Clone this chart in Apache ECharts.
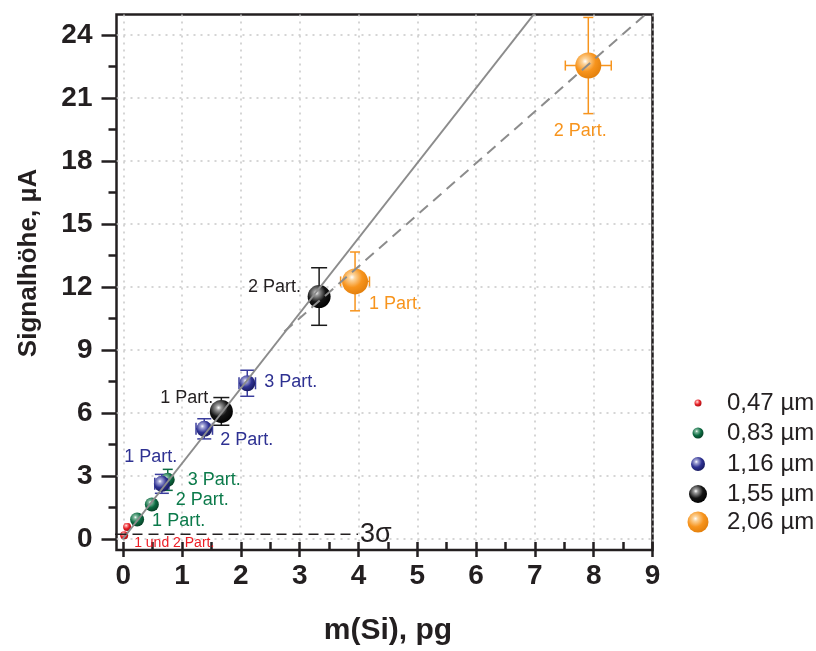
<!DOCTYPE html>
<html>
<head>
<meta charset="utf-8">
<script src="https://cdn.jsdelivr.net/npm/echarts@6/dist/echarts.min.js"></script>
<style>
  html, body { margin: 0; padding: 0; background: #ffffff; }
  #chart { width: 816px; height: 651px; }
</style>
</head>
<body>
<div id="chart"></div>
<script>
// ---- data -------------------------------------------------------------
const sizeNames = ['0,47 µm', '0,83 µm', '1,16 µm', '1,55 µm', '2,06 µm'];

// 0,47 µm particles
const mass047 = [0.03, 0.08];
const signal047 = [0.2, 0.6];
const massErr047 = [0.02, 0.02];
const signalErr047 = [0.12, 0.12];
const tags047 = ['1 und 2 Part.', ''];

// 0,83 µm particles
const mass083 = [0.25, 0.50, 0.77];
const signal083 = [0.95, 1.67, 2.84];
const massErr083 = [0.03, 0.04, 0.06];
const signalErr083 = [0.15, 0.2, 0.5];
const tags083 = ['1 Part.', '2 Part.', '3 Part.'];

// 1,16 µm particles
const mass116 = [0.67, 1.39, 2.12];
const signal116 = [2.65, 5.27, 7.44];
const massErr116 = [0.12, 0.14, 0.14];
const signalErr116 = [0.45, 0.48, 0.62];
const tags116 = ['1 Part.', '2 Part.', '3 Part.'];

// 1,55 µm particles
const mass155 = [1.68, 3.34];
const signal155 = [6.10, 11.57];
const massErr155 = [0.13, 0.15];
const signalErr155 = [0.66, 1.37];
const tags155 = ['1 Part.', '2 Part.'];

// 2,06 µm particles
const mass206 = [3.95, 7.91];
const signal206 = [12.29, 22.57];
const massErr206 = [0.245, 0.39];
const signalErr206 = [1.4, 2.29];
const tags206 = ['1 Part.', '2 Part.'];

// calibration lines
const fitAllX = [0, 7.0];
const fitAllY = [0, 25.06];
const fitLargeX = [2.75, 9.0];
const fitLargeY = [9.9, 25.3];
const sigmaX = [-0.1, 4.0];
const sigmaY = [0.25, 0.25];
const sigmaStubX = [-0.4, -0.1];

// axis ticks
const xTickMin = 0, xTickMax = 9, xTickStep = 1;
const yTickMin = 0, yTickMax = 24, yTickStep = 3;

// ---- styling ------------------------------------------------------------
const FONT = '"Liberation Sans", Arial, Helvetica, sans-serif';
const INK = '#231f20';

const groups = [
  { mass: mass047, signal: signal047, mErr: massErr047, sErr: signalErr047, tags: tags047,
    base: '#e41f26', light: '#ff9c9c', dark: '#a50d12', text: '#ed1c24', bar: '#e41f26',
    size: 8, legendSize: 7, capV: 6, capH: 6, fontSize: 14,
    place: [[10, 8, 'left'], null] },
  { mass: mass083, signal: signal083, mErr: massErr083, sErr: signalErr083, tags: tags083,
    base: '#0c6b42', light: '#7fb89c', dark: '#063a22', text: '#0b7a4a', bar: '#0c6b42',
    size: 14, legendSize: 11, capV: 10, capH: 8, fontSize: 18,
    place: [[15, 1, 'left'], [24, -4, 'left'], [20, 0, 'left']] },
  { mass: mass116, signal: signal116, mErr: massErr116, sErr: signalErr116, tags: tags116,
    base: '#2e3192', light: '#a6a8d8', dark: '#161859', text: '#2e3192', bar: '#3a3d9c',
    size: 16, legendSize: 14, capV: 14, capH: 12, fontSize: 18,
    place: [[-11, -27, 'center'], [16, 11, 'left'], [17, -1, 'left']] },
  { mass: mass155, signal: signal155, mErr: massErr155, sErr: signalErr155, tags: tags155,
    base: '#141414', light: '#9a9a9a', dark: '#000000', text: INK, bar: '#1a1a1a',
    size: 23, legendSize: 18, capV: 16, capH: 10, fontSize: 18,
    place: [[-8, -13, 'right'], [-18, -9, 'right']] },
  { mass: mass206, signal: signal206, mErr: massErr206, sErr: signalErr206, tags: tags206,
    base: '#f7941d', light: '#fcd39a', dark: '#e07d0a', text: '#f7941d', bar: '#f7941d',
    size: 26, legendSize: 21, capV: 10, capH: 10, fontSize: 18,
    place: [[14, 23, 'left'], [-8, 66, 'center']] }
];

function sphere(g) {
  return new echarts.graphic.RadialGradient(0.38, 0.34, 0.72, [
    { offset: 0, color: '#ffffff' },
    { offset: 0.16, color: g.light },
    { offset: 0.55, color: g.base },
    { offset: 1, color: g.dark }
  ]);
}

// ---- series -------------------------------------------------------------
const series = [];

groups.forEach((g, gi) => {
  // error bars
  series.push({
    type: 'custom',
    name: 'err ' + sizeNames[gi],
    xAxisIndex: 0, yAxisIndex: 0,
    z: 3,
    silent: true,
    encode: { x: 0, y: 1 },
    data: g.mass.map((m, i) => [m, g.signal[i], g.mErr[i], g.sErr[i]]),
    renderItem: function (params, api) {
      const x = api.value(0), y = api.value(1), ex = api.value(2), ey = api.value(3);
      const top = api.coord([x, y + ey]);
      const bot = api.coord([x, y - ey]);
      const lft = api.coord([x - ex, y]);
      const rgt = api.coord([x + ex, y]);
      const st = { stroke: g.bar, lineWidth: 1.5, fill: null };
      const hv = g.capV / 2, hh = g.capH / 2;
      return {
        type: 'group',
        children: [
          { type: 'line', shape: { x1: top[0], y1: top[1], x2: bot[0], y2: bot[1] }, style: st },
          { type: 'line', shape: { x1: top[0] - hv, y1: top[1], x2: top[0] + hv, y2: top[1] }, style: st },
          { type: 'line', shape: { x1: bot[0] - hv, y1: bot[1], x2: bot[0] + hv, y2: bot[1] }, style: st },
          { type: 'line', shape: { x1: lft[0], y1: lft[1], x2: rgt[0], y2: rgt[1] }, style: st },
          { type: 'line', shape: { x1: lft[0], y1: lft[1] - hh, x2: lft[0], y2: lft[1] + hh }, style: st },
          { type: 'line', shape: { x1: rgt[0], y1: rgt[1] - hh, x2: rgt[0], y2: rgt[1] + hh }, style: st }
        ]
      };
    }
  });

  // markers with particle-count tags
  series.push({
    type: 'scatter',
    name: sizeNames[gi],
    xAxisIndex: 0, yAxisIndex: 0,
    z: 4,
    symbol: 'circle',
    symbolSize: g.size,
    itemStyle: { color: sphere(g), opacity: 1 },
    data: g.mass.map((m, i) => {
      const p = g.place[i];
      const item = { value: [m, g.signal[i]] };
      if (p && g.tags[i]) {
        item.label = {
          show: true,
          formatter: g.tags[i],
          position: 'inside',
          align: p[2],
          verticalAlign: 'middle',
          offset: [p[0], p[1]],
          color: g.text,
          fontSize: g.fontSize,
          fontFamily: FONT
        };
      }
      return item;
    }),
    emphasis: { disabled: true }
  });
});

// calibration lines (drawn above the markers)
series.push({
  type: 'line', name: 'fit all', xAxisIndex: 0, yAxisIndex: 0, z: 6,
  symbol: 'none', silent: true,
  lineStyle: { color: '#8c8c8c', width: 2 },
  data: fitAllX.map((x, i) => [x, fitAllY[i]])
});
series.push({
  type: 'line', name: 'fit large', xAxisIndex: 0, yAxisIndex: 0, z: 6,
  symbol: 'none', silent: true,
  lineStyle: { color: '#8c8c8c', width: 2, type: [11, 7] },
  data: fitLargeX.map((x, i) => [x, fitLargeY[i]])
});
series.push({
  type: 'line', name: 'sigma', xAxisIndex: 0, yAxisIndex: 0, z: 6,
  symbol: 'none', silent: true,
  lineStyle: { color: INK, width: 1.5, type: [10, 6] },
  data: sigmaX.map((x, i) => [x, sigmaY[i]]),
  endLabel: { show: true, formatter: '3σ', color: INK, fontSize: 27, fontFamily: FONT, distance: 2 }
});
series.push({
  type: 'line', name: 'sigma stub', xAxisIndex: 0, yAxisIndex: 0, z: 6,
  symbol: 'none', silent: true, clip: false,
  lineStyle: { color: INK, width: 1.5 },
  data: sigmaStubX.map((x, i) => [x, sigmaY[i]])
});

// ---- layout -------------------------------------------------------------
const frame = { left: 116.5, right: 163.5, top: 14.5, bottom: 101 };
const splitStyle = { show: true, lineStyle: { color: '#c8c8c8', width: 1.5, type: [2, 5] } };
const tickStyle = { lineStyle: { color: INK, width: 2.5 } };

// one legend block per particle size, icons centred on one column, text on another
const legendRows = [403, 433, 464, 494, 522];
const legendIconX = 698, legendTextX = 727;
const legends = sizeNames.map((name, i) => {
  const h = groups[i].legendSize;
  return {
    data: [name],
    left: legendIconX - h / 2,
    top: legendRows[i] - Math.max(h, 24) / 2,
    padding: 0,
    itemWidth: h,
    itemHeight: h,
    icon: 'circle',
    selectedMode: false,
    textStyle: {
      fontSize: 24, color: INK, fontFamily: FONT,
      padding: [0, 0, 0, legendTextX - (legendIconX + h / 2 + 5)]
    }
  };
});

const option = {
  backgroundColor: '#ffffff',
  animation: false,
  legend: legends,
  grid: [
    // data area with frame
    Object.assign({ show: true, borderColor: INK, borderWidth: 2.5, backgroundColor: 'transparent' }, frame),
    // x tick area
    { left: 123.3, right: frame.right, top: frame.top, bottom: frame.bottom },
    // y tick area
    { left: frame.left, right: frame.right, top: 35, bottom: 112 }
  ],
  xAxis: [
    { gridIndex: 0, type: 'value', min: -0.1, max: 9, show: false },
    {
      gridIndex: 1, type: 'value', min: xTickMin, max: xTickMax, interval: xTickStep,
      axisLine: { show: false },
      axisTick: Object.assign({ show: true, inside: false, length: 15 }, tickStyle),
      minorTick: { show: true, splitNumber: 2, length: 8, lineStyle: { color: INK, width: 2.5 } },
      axisLabel: { color: INK, fontSize: 28, fontWeight: 'bold', fontFamily: FONT, margin: 20 },
      splitLine: splitStyle,
      name: 'm(Si), pg', nameLocation: 'middle', nameGap: 74,
      nameTextStyle: { color: INK, fontSize: 30, fontWeight: 'bold', fontFamily: FONT }
    },
    { gridIndex: 2, type: 'value', min: 0, max: 1, show: false }
  ],
  yAxis: [
    { gridIndex: 0, type: 'value', min: -0.5, max: 25, show: false },
    { gridIndex: 1, type: 'value', min: 0, max: 1, show: false },
    {
      gridIndex: 2, type: 'value', min: yTickMin, max: yTickMax, interval: yTickStep,
      axisLine: { show: false },
      axisTick: Object.assign({ show: true, inside: false, length: 15 }, tickStyle),
      minorTick: { show: true, splitNumber: 2, length: 8, lineStyle: { color: INK, width: 2.5 } },
      axisLabel: { color: INK, fontSize: 28, fontWeight: 'bold', fontFamily: FONT, margin: 24 },
      splitLine: splitStyle,
      name: 'Signalhöhe, µA', nameLocation: 'middle', nameGap: 75,
      nameTextStyle: { color: INK, fontSize: 26, fontWeight: 'bold', fontFamily: FONT, padding: [0, 0, 0, 48] }
    }
  ],
  series: series
};

const chart = echarts.init(document.getElementById('chart'), null, { renderer: 'canvas' });
chart.setOption(option);
</script>
</body>
</html>
